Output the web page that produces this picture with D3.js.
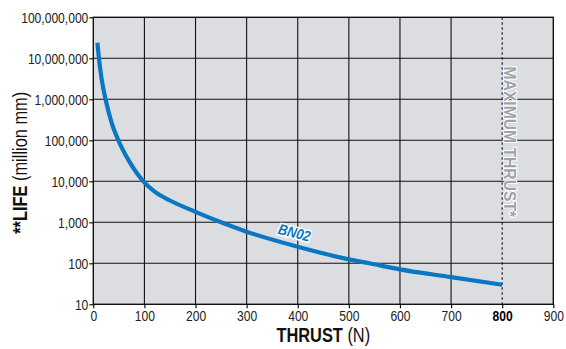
<!DOCTYPE html>
<html><head><meta charset="utf-8">
<script src="https://cdn.jsdelivr.net/npm/d3@7"></script>
<style>
html,body{margin:0;padding:0;background:#fff;}
svg{display:block;}
</style></head>
<body>
<svg id="c" width="566" height="349"></svg>
<script>
const thrust = [8, 11, 16, 24, 35, 49, 70, 85, 98, 120, 150, 200, 250, 300, 400, 500, 540, 600, 700, 800];
const life   = [24000000, 10000000, 3300000, 1000000, 290000, 100000, 31000, 16000, 10000, 5600, 3400, 1800, 1000, 590, 254, 125, 100, 71, 46, 30];
const xTicks = [0, 100, 200, 300, 400, 500, 600, 700, 800, 900];
const yTicks = [10, 100, 1000, 10000, 100000, 1000000, 10000000, 100000000];
const maxThrust = 800;
const seriesName = "BN02";

const svg = d3.select("#c");
const L = 93.3, R = 553.3, T = 17.3, B = 304.3;
const font = "'Liberation Sans',Arial,sans-serif";
const SX = 0.78; // horizontal condensing factor
const x = d3.scaleLinear().domain([0, 900]).range([L, R]);
const y = d3.scaleLog().domain([10, 1e8]).range([B, T]);

svg.append("rect").attr("x", L).attr("y", T).attr("width", R - L).attr("height", B - T)
  .attr("fill", "#dcdde0");

// grid
svg.append("g").selectAll("line").data(xTicks.slice(1, -1).filter(d => d !== maxThrust)).join("line")
  .attr("x1", d => x(d)).attr("x2", d => x(d)).attr("y1", T).attr("y2", B)
  .attr("stroke", "#111").attr("stroke-width", 1.1);
svg.append("g").selectAll("line").data(yTicks.slice(1, -1)).join("line")
  .attr("x1", L).attr("x2", R).attr("y1", d => y(d)).attr("y2", d => y(d))
  .attr("stroke", "#111").attr("stroke-width", 1.1);

// max thrust dotted line
svg.append("line").attr("x1", x(maxThrust)).attr("x2", x(maxThrust)).attr("y1", T).attr("y2", B)
  .attr("stroke", "#111").attr("stroke-width", 1.1).attr("stroke-dasharray", "2.5,2.5");

// border
svg.append("rect").attr("x", L).attr("y", T).attr("width", R - L).attr("height", B - T)
  .attr("fill", "none").attr("stroke", "#111").attr("stroke-width", 1.4);

// axes
const xAxis = svg.append("g").attr("transform", `translate(0,${B})`)
  .call(d3.axisBottom(x).tickValues(xTicks).tickSize(4).tickPadding(2).tickFormat(d3.format("d")));
const yAxis = svg.append("g").attr("transform", `translate(${L},0)`)
  .call(d3.axisLeft(y).tickValues(yTicks).tickSize(4).tickPadding(1).tickFormat(d3.format(",")));
[xAxis, yAxis].forEach(a => {
  a.select(".domain").remove();
  a.selectAll(".tick line").attr("stroke", "#111").attr("stroke-width", 1.2);
  a.selectAll("text").attr("font-family", font).attr("font-size", 15.5).attr("fill", "#222")
    .each(function () {
      const t = d3.select(this);
      const xx = +t.attr("x") || 0;
      t.attr("x", xx / SX).attr("transform", `scale(${SX},1)`);
    });
});
xAxis.selectAll(".tick text").attr("font-weight", d => d === maxThrust ? "bold" : "normal")
  .attr("fill", d => d === maxThrust ? "#000" : "#222");
yAxis.selectAll(".tick text").attr("dy", "0.36em");

// curve
const pts = thrust.map((t, i) => [t, life[i]]);
svg.append("path").datum(pts)
  .attr("d", d3.line().x(d => x(d[0])).y(d => y(d[1])).curve(d3.curveMonotoneX))
  .attr("fill", "none").attr("stroke", "#0a77c2").attr("stroke-width", 4.2);

// series label
svg.append("text").attr("transform", `translate(${x(391)},${y(240) - 10}) rotate(14) scale(0.85,1)`)
  .attr("text-anchor", "middle").attr("font-family", font).attr("font-weight", "bold")
  .attr("font-style", "italic").attr("font-size", 15)
  .attr("fill", "#0a77c2").attr("stroke", "#fff").attr("stroke-width", 3)
  .attr("paint-order", "stroke").text(seriesName);

// max thrust label
svg.append("text").attr("transform", `translate(${x(maxThrust) + 2},${(T + B) / 2 - 19}) rotate(90) scale(0.95,1)`)
  .attr("text-anchor", "middle").attr("font-family", font)
  .attr("font-weight", "bold").attr("font-size", 16.5)
  .attr("fill", "#a0a2a6").attr("stroke", "#fff").attr("stroke-width", 2)
  .attr("paint-order", "stroke").text("MAXIMUM THRUST*");

// x title
const xt = svg.append("text").attr("transform", `translate(${(L + R) / 2},342) scale(${SX},1)`)
  .attr("text-anchor", "middle")
  .attr("font-family", font).attr("font-size", 21).attr("fill", "#111");
xt.append("tspan").attr("font-weight", "bold").text("THRUST");
xt.append("tspan").text(" (N)");

// y title
const yt = svg.append("text").attr("transform", `translate(27,${(T + B) / 2 + 2}) rotate(-90) scale(${SX},1)`)
  .attr("text-anchor", "middle").attr("font-family", font).attr("font-size", 21).attr("fill", "#111");
yt.append("tspan").attr("font-weight", "bold").text("**LIFE");
yt.append("tspan").text(" (million mm)");
</script>
</body></html>
